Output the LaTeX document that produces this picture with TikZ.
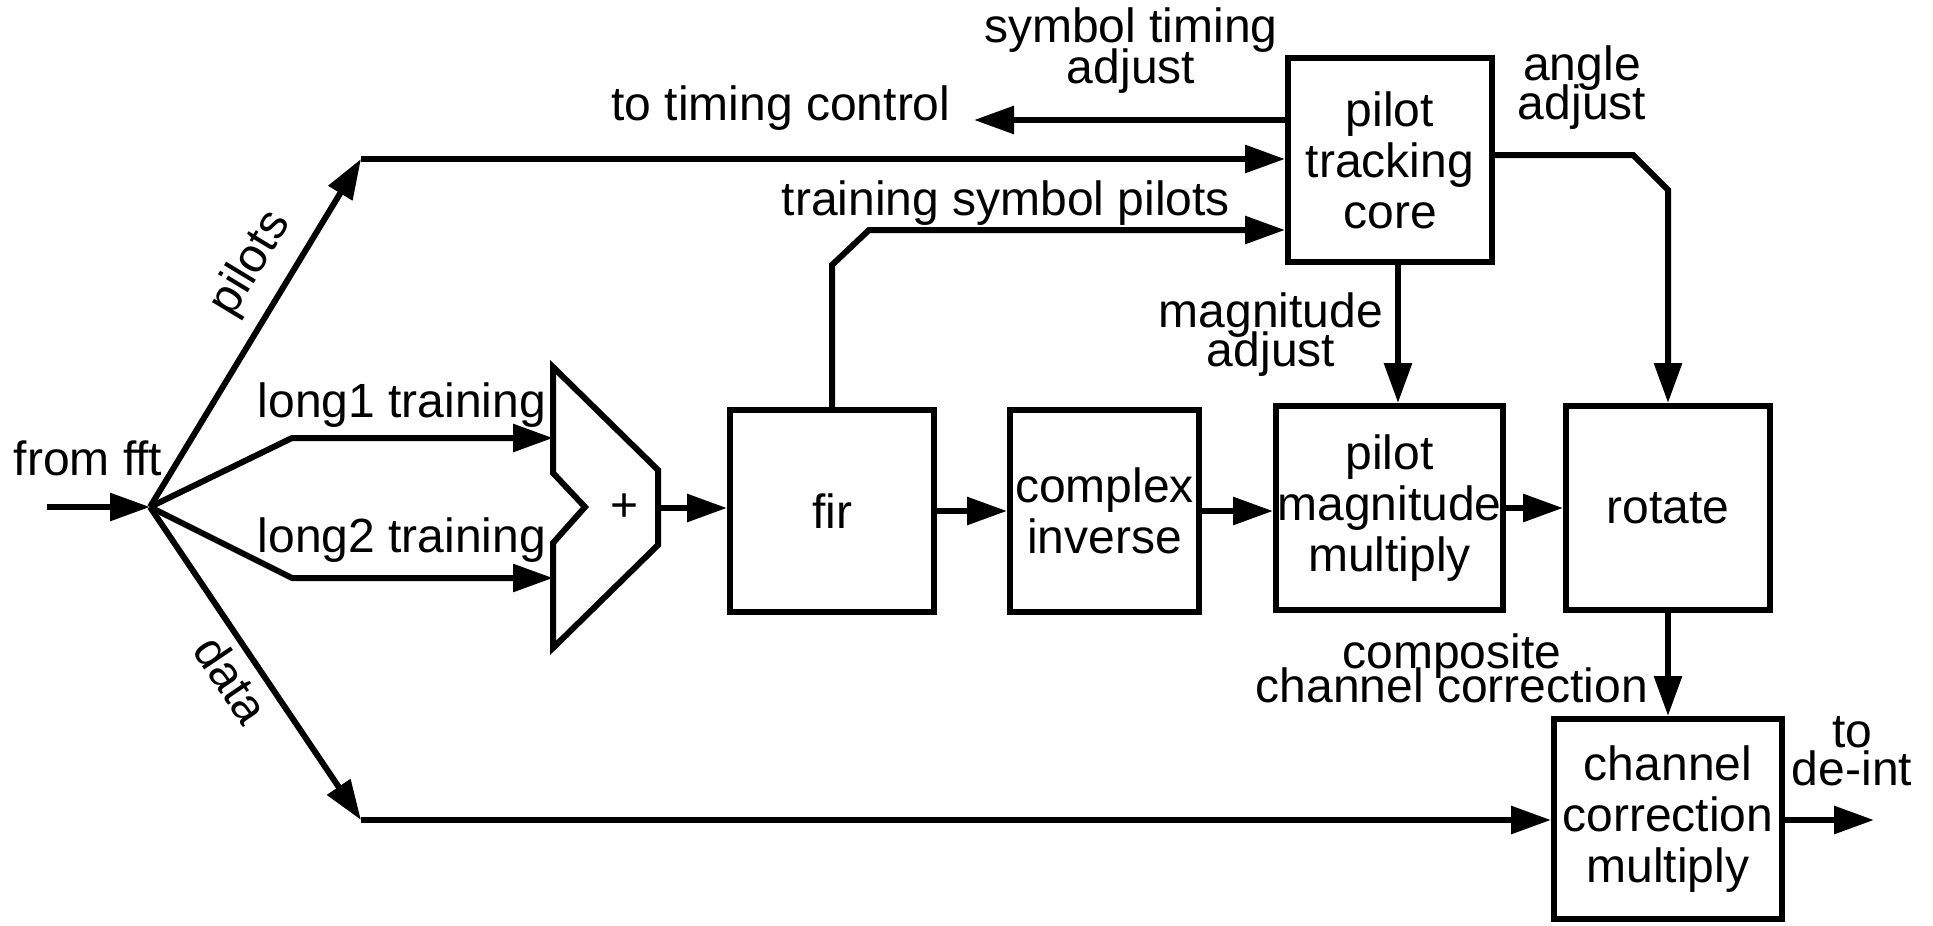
\documentclass[tikz,border=0pt]{standalone}
\usepackage{fontspec}
\setmainfont{Liberation Sans}
\usetikzlibrary{arrows.meta}
\newcommand\nolsk{\lineskiplimit=-1000pt\relax}
\nolsk
\begin{document}
\begin{tikzpicture}[x=1pt,y=-1pt,
  every node/.style={font={\fontsize{48}{51}\selectfont\nolsk}},
  blk/.style={draw, line width=6pt, inner sep=0pt, align=center},
  lbl/.style={align=center, inner sep=0pt},
  lbl41/.style={lbl, font={\fontsize{48}{41}\selectfont\nolsk}},
  lbl40/.style={lbl, font={\fontsize{48}{39.5}\selectfont\nolsk}},
  lbl33/.style={lbl, font={\fontsize{48}{33.5}\selectfont\nolsk}},
  lbl38/.style={lbl, font={\fontsize{48}{38}\selectfont\nolsk}},
  wire/.style={line width=6pt},
  arr/.style={wire, -{Triangle[length=40pt,width=27pt]}},
]
\useasboundingbox (0,0) rectangle (1933,926);

% blocks
\node[blk, minimum width=204pt, minimum height=204pt] (core) at (1390,160) {pilot\\tracking\\core};
\node[blk, minimum width=204pt, minimum height=202pt] (fir) at (832,511) {fir};
\node[blk, minimum width=189pt, minimum height=202pt] (cinv) at (1104.5,511) {complex\\inverse};
\node[blk, minimum width=227pt, minimum height=204pt] (pmm) at (1389.5,508) {pilot\\magnitude\\multiply};
\node[blk, minimum width=204pt, minimum height=204pt] (rot) at (1668,508) {rotate};
\node[blk, minimum width=228pt, minimum height=200pt] (ccm) at (1668,819) {channel\\correction\\multiply};

% adder
\coordinate (ad1) at (553,367);
\coordinate (ad2) at (658,470);
\coordinate (ad3) at (658,545);
\coordinate (ad4) at (553,648);
\coordinate (ad5) at (553,543);
\coordinate (ad6) at (585,507);
\coordinate (ad7) at (553,473);
\draw[wire, line join=miter] (ad1) -- (ad2) -- (ad3) -- (ad4) -- (ad5) -- (ad6) -- (ad7) -- cycle;
\node (plus) at (625,508) {+};
\coordinate (adin1) at (553,438);
\coordinate (adin2) at (553,578);
\coordinate (adout) at (658,508);

% junction points
\coordinate (in) at (47,507);
\coordinate (S) at (150,507);
\coordinate (P) at (361,159);
\coordinate (D) at (361,820);
\coordinate (L1) at (292,438);
\coordinate (L2) at (292,578);
\coordinate (tc) at (974,120);
\coordinate (T1) at (832,265);
\coordinate (T2) at (869,230);
\coordinate (ang0) at (1495,155);
\coordinate (ang1) at (1633,155);
\coordinate (ang2) at (1668,190);
\coordinate (mag) at (1398,300);
\coordinate (deint) at (1874,820);

% connectors
\draw[arr] (in) -- (S);
\draw[arr] (S) -- (P) node[lbl, sloped, above, pos=0.64, inner sep=14pt] (lpil) {pilots};
\draw[arr] (P) -- (P -| core.west);
\draw[arr] (S) -- (L1) -- (adin1);
\draw[arr] (S) -- (L2) -- (adin2);
\draw[arr] (S) -- (D) node[lbl, sloped, below, pos=0.50, inner sep=8pt] (ldat) {data};
\draw[arr] (D) -- (D -| ccm.west);
\draw[arr] (adout) -- (adout -| fir.west);
\draw[arr] (fir) -- (cinv);
\draw[arr] (cinv.east) -- (cinv.east -| pmm.west);
\draw[arr] (pmm) -- (rot);
\draw[arr] (rot) -- (ccm);
\draw[arr] (ccm.east |- deint) -- (deint);
\draw[arr] (tc -| core.west) -- (tc);
\draw[arr] (fir.north) -- (T1) -- (T2) -- (T2 -| core.west);
\draw[arr] (ang0 -| core.east) -- (ang1) -- (ang2) -- (rot.north);
\draw[arr] (core.south -| mag) -- (pmm.north -| mag);

% labels
\node[lbl, anchor=base] (lfft) at (88,475) {from fft};
\node[lbl, anchor=base] (l1) at (402,417) {long1 training};
\node[lbl, anchor=base] (l2) at (402,552) {long2 training};
\node[lbl, anchor=base] (ltc) at (781,120) {to timing control};
\node[lbl, anchor=base] (ltsp) at (1006,215) {training symbol pilots};
\node[lbl41] (lsta) at (1131,50.3) {symbol timing\\adjust};
\node[lbl40] (laa) at (1582,87.4) {angle\\adjust};
\node[lbl40] (lma) at (1271,334.5) {magnitude\\adjust};
\node[lbl33] (lccc) at (1452,668.5) {composite\\channel correction};
\node[lbl38] (lde) at (1852,750.9) {to\\de-int};
\end{tikzpicture}
\end{document}
